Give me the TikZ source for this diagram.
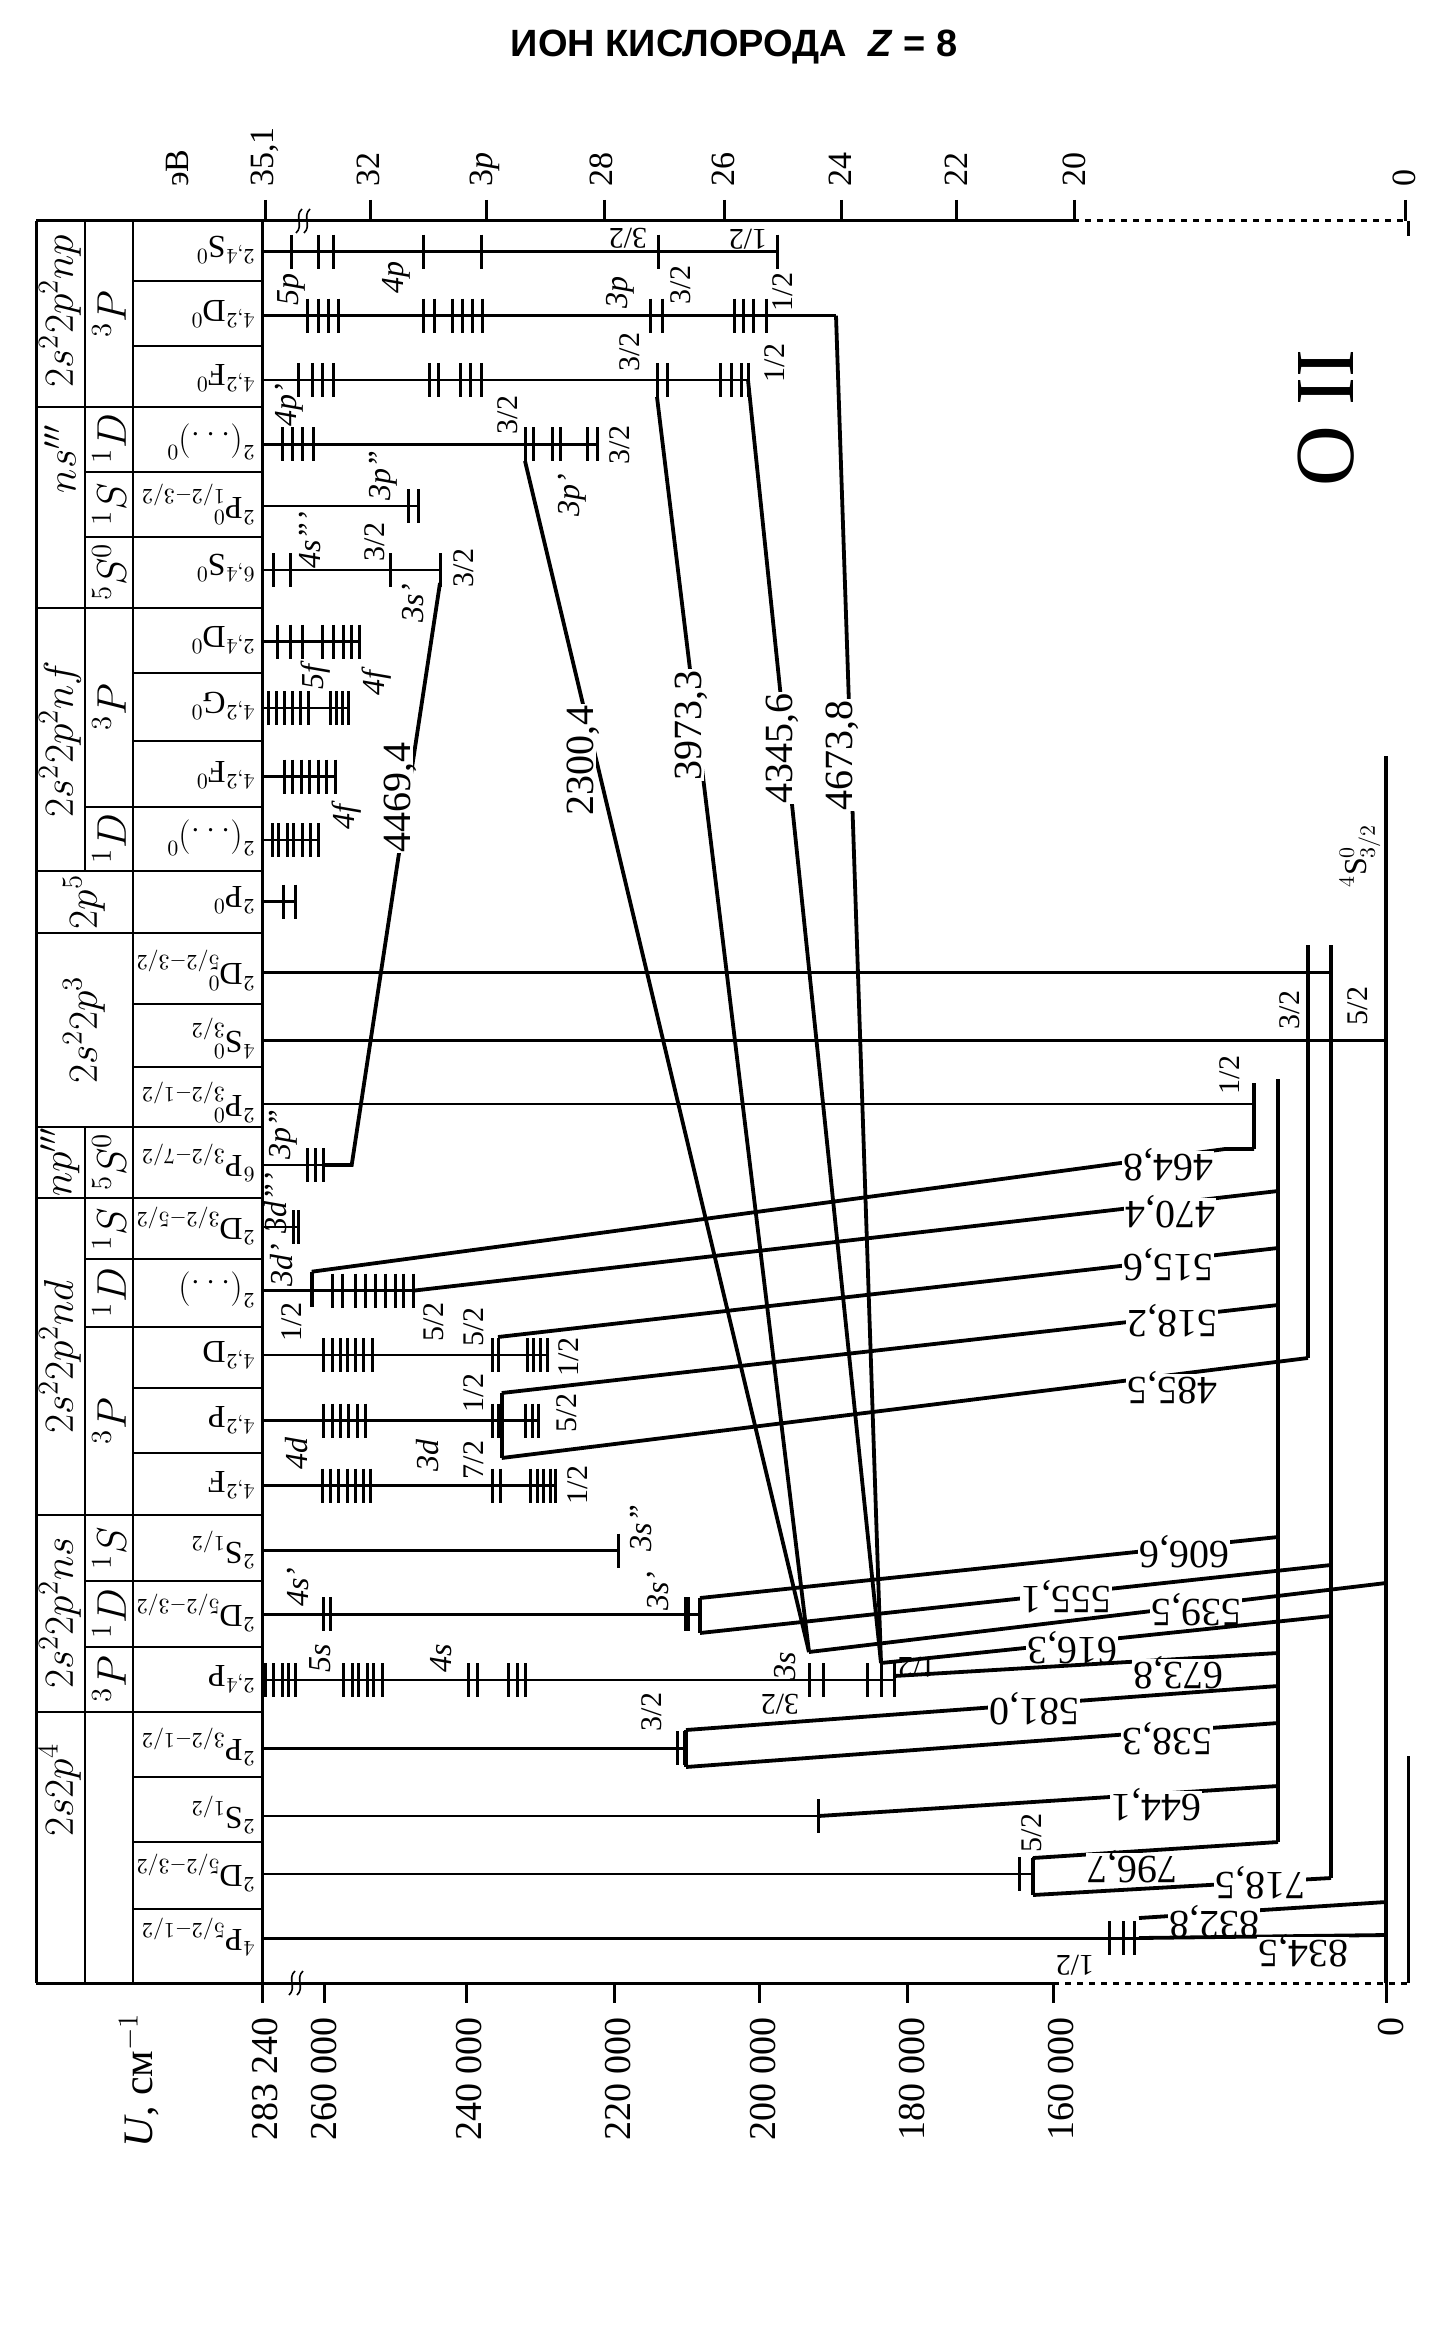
\documentclass[tikz,border=0pt]{standalone}
\usepackage{fontspec}
\setmainfont{Liberation Serif}
\newfontfamily\titlefont{Liberation Sans}
\newcommand\Tks[2]{\foreach \xx in {#2}{\draw[tmk] (\xx,#1-17) -- (\xx,#1+17);}}
\newcommand\Lv[3]{\draw[lvl] (#2,#1) -- (#3,#1);}
\begin{document}
\begin{tikzpicture}[x=0.5pt,y=-0.5pt,
  lvl/.style={line width=1.3pt},
  tmk/.style={line width=1.5pt},
  trn/.style={line width=1.9pt},
  frm/.style={line width=1.5pt},
  grd/.style={line width=1.1pt},
  wl/.style={font=\fontsize{20}{20}\selectfont, fill=white, inner sep=0.6pt, text height=0.68em, text depth=0.08em},
  wlv/.style={wl, rotate=90},
  wlh/.style={wl, rotate=180},
  jv/.style={font=\fontsize{15}{15}\selectfont, inner sep=0pt, rotate=90},
  jh/.style={font=\fontsize{15}{15}\selectfont, inner sep=0pt, rotate=180},
  orb/.style={font=\fontsize{16}{16}\selectfont\itshape, inner sep=0pt, rotate=90},
  term/.style={font=\fontsize{16}{16}\selectfont, rotate=180, anchor=west, inner sep=0pt},
  par/.style={font=\fontsize{20}{20}\selectfont, rotate=90},
  conf/.style={font=\fontsize{22}{22}\selectfont, rotate=90},
  axt/.style={font=\fontsize{17}{17}\selectfont, rotate=90, anchor=west},
  axb/.style={font=\fontsize{19}{19}\selectfont, rotate=90, anchor=east}
]
\useasboundingbox (0,0) rectangle (1452,2343);

% title
\node[font=\titlefont\bfseries\fontsize{19}{19}\selectfont] (title) at (734,47) {ИОН КИСЛОРОДА\ \ \textit{Z} = 8};

% ---------- frame ----------
\draw[frm] (36,221) -- (1073,221);
\draw[frm,dashed] (1073,221) -- (1408,221);
\draw[frm] (36,1983) -- (1053,1983);
\draw[frm,dashed] (1053,1983) -- (1408,1983);
\draw[frm] (36,221) -- (36,1983);
\draw[grd] (85,221) -- (85,870.7);
\draw[grd] (85,1126.7) -- (85,1983);
\draw[grd] (133,221) -- (133,1983);
\draw[frm] (262,221) -- (262,1983);
\draw[frm] (1408,221) -- (1408,236);
\draw[frm] (1408,1756) -- (1408,1983);

% axis ticks
\foreach \x in {265,370,486,604,724,841,956,1074,1405} \draw[frm] (\x,200) -- (\x,221);
\foreach \x in {262,324,466,614,759,907,1053,1386} \draw[frm] (\x,1983) -- (\x,2003);
% breaks
\foreach \x in {299,307} \draw[line width=0.8pt] (\x+3,209) .. controls (\x-5,216) and (\x+5,226) .. (\x-3,233);
\foreach \x in {292,300} \draw[line width=0.8pt] (\x+3,1971) .. controls (\x-5,1978) and (\x+5,1988) .. (\x-3,1995);

% axis labels
\node[axt] (ev) at (178,194) {эВ};
\node[axt] (e351) at (265,194) {35,1};
\node[axt] (e32) at (368,194) {32};
\node[axt] (e30) at (485,194) {3\textit{p}};
\node[axt] (e28) at (601,194) {28};
\node[axt] (e26) at (723,194) {26};
\node[axt] (e24) at (840,194) {24};
\node[axt] (e22) at (956,194) {22};
\node[axt] (e20) at (1074,194) {20};
\node[axt] (e0) at (1404,194) {0};
\node[axb, font=\fontsize{21}{21}\selectfont] (uu) at (139,2006) {\textit{U}, см$^{-1}$};
\node[axb] (c283) at (265,2010) {283 240};
\node[axb] (c260) at (324,2010) {260 000};
\node[axb] (c240) at (469,2010) {240 000};
\node[axb] (c220) at (618,2010) {220 000};
\node[axb] (c200) at (763,2010) {200 000};
\node[axb] (c180) at (912,2010) {180 000};
\node[axb] (c160) at (1061,2010) {160 000};
\node[axb] (c0) at (1391,2010) {0};

% ---------- table dividers ----------
\foreach \y in {406.7,608,870.7,933.3,1126.7,1198.3,1515,1711.7} \draw[grd] (36,\y) -- (262,\y);
\foreach \y in {471.7,536.7,806.7,1259.3,1326.7,1581,1646.7} \draw[grd] (85,\y) -- (262,\y);
\foreach \y in {281,345.7,673,740.7,1004.3,1066.7,1388.3,1453.3,1777.3,1841.7,1909.3} \draw[grd] (133,\y) -- (262,\y);

% configurations
\node[conf] (k1) at (60,311) {$2s^22p^2np$};
\node[conf] (k2) at (60,459) {$ns'''$};
\node[conf] (k3) at (60,739) {$2s^22p^2nf$};
\node[conf] (k4) at (84,902) {$2p^5$};
\node[conf] (k5) at (84,1030) {$2s^22p^3$};
\node[conf] (k6) at (60,1162) {$np'''$};
\node[conf] (k7) at (60,1357) {$2s^22p^2nd$};
\node[conf] (k8) at (60,1613) {$2s^22p^2ns$};
\node[conf] (k9) at (60,1790) {$2s2p^4$};
% parents
\node[par] (p1) at (109,314) {$^3P$};
\node[par] (p2) at (109,439) {$^1D$};
\node[par] (p3) at (109,504) {$^1S$};
\node[par] (p4) at (109,572) {$^5S^0$};
\node[par] (p5) at (109,707) {$^3P$};
\node[par] (p6) at (109,839) {$^1D$};
\node[par] (p7) at (109,1162) {$^5S^0$};
\node[par] (p8) at (109,1229) {$^1S$};
\node[par] (p9) at (109,1293) {$^1D$};
\node[par] (p10) at (109,1421) {$^3P$};
\node[par] (p11) at (109,1548) {$^1S$};
\node[par] (p12) at (109,1614) {$^1D$};
\node[par] (p13) at (109,1679) {$^3P$};
% terms
\node[term] (t1) at (255,250) {$^{2,4}\mathrm{S}^0$};
\node[term] (t2) at (255,314) {$^{4,2}\mathrm{D}^0$};
\node[term] (t3) at (255,378) {$^{4,2}\mathrm{F}^0$};
\node[term] (t4) at (255,442) {$^2(\ldots)^0$};
\node[term] (t5) at (255,504) {$^2\mathrm{P}^0_{1/2-3/2}$};
\node[term] (t6) at (255,568) {$^{6,4}\mathrm{S}^0$};
\node[term] (t7) at (255,640) {$^{2,4}\mathrm{D}^0$};
\node[term] (t8) at (255,706) {$^{4,2}\mathrm{G}^0$};
\node[term] (t9) at (255,775) {$^{4,2}\mathrm{F}^0$};
\node[term] (t10) at (255,838) {$^2(\ldots)^0$};
\node[term] (t11) at (255,900) {$^2\mathrm{P}^0$};
\node[term] (t12) at (255,970) {$^2\mathrm{D}^0_{5/2-3/2}$};
\node[term] (t13) at (255,1038) {$^4\mathrm{S}^0_{3/2}$};
\node[term] (t14) at (255,1102) {$^2\mathrm{P}^0_{3/2-1/2}$};
\node[term] (t15) at (255,1163) {$^6\mathrm{P}_{3/2-7/2}$};
\node[term] (t16) at (255,1226) {$^2\mathrm{D}_{3/2-5/2}$};
\node[term] (t17) at (255,1290) {$^2(\ldots)$};
\node[term] (t18) at (255,1355) {$^{4,2}\mathrm{D}$};
\node[term] (t19) at (255,1420) {$^{4,2}\mathrm{P}$};
\node[term] (t20) at (255,1485) {$^{4,2}\mathrm{F}$};
\node[term] (t21) at (255,1550) {$^2\mathrm{S}_{1/2}$};
\node[term] (t22) at (255,1613) {$^2\mathrm{D}_{5/2-3/2}$};
\node[term] (t23) at (255,1679) {$^{2,4}\mathrm{P}$};
\node[term] (t24) at (255,1747) {$^2\mathrm{P}_{3/2-1/2}$};
\node[term] (t25) at (255,1815) {$^2\mathrm{S}_{1/2}$};
\node[term] (t26) at (255,1873) {$^2\mathrm{D}_{5/2-3/2}$};
\node[term] (t27) at (255,1937) {$^4\mathrm{P}_{5/2-1/2}$};

% ---------- levels ----------
\Lv{251.7}{262}{777} \Tks{251.7}{291,318,333,423,481,658,777}
\Lv{315.7}{262}{836} \Tks{315.7}{307,318,328,338,423,434,452,462,472,482,650,662,734,743,753,766}
\Lv{380}{262}{748} \Tks{380}{298,312,322,333,429,438,460,470,481,657,667,720,731,741,748}
\Lv{444.3}{262}{597} \Tks{444.3}{282,292,302,313,525,533,552,560,587,597}
\Lv{506}{262}{418} \Tks{506}{408,418}
\Lv{570}{262}{440} \Tks{570}{273,290,390,440}
\Lv{641.7}{262}{359} \Tks{641.7}{277,290,302,322,333,343,351,359}
\Lv{708}{262}{348} \Tks{708}{268,276,284,292,300,308,330,336,342,348}
\Lv{776.7}{262}{335} \Tks{776.7}{284,292,301,309,318,326,335}
\Lv{840}{262}{318} \Tks{840}{272,278,287,293,302,310,318}
\Lv{901.7}{262}{295} \Tks{901.7}{283,295}
\Lv{972.7}{262}{1331}
\Lv{1040.7}{262}{1386}
\Lv{1104}{262}{1254}
\Lv{1165}{262}{323} \Tks{1165}{307,315,323}
\Lv{1227}{262}{298} \Tks{1227}{293,298}
\Lv{1290.7}{262}{413} \Tks{1290.7}{332,342,355,365,375,385,395,403,413}
\Lv{1355}{262}{547} \Tks{1355}{323,332,340,347,355,363,372,492,498,527,533,540,547}
\Lv{1420.7}{262}{538} \Tks{1420.7}{323,332,340,348,357,365,492,498,525,532,538}
\Lv{1485.7}{262}{555} \Tks{1485.7}{322,330,338,347,355,363,370,492,500,530,537,543,550,555}
\Lv{1550.7}{262}{618} \Tks{1550.7}{618}
\Lv{1614.3}{262}{700} \Tks{1614.3}{323,330,685,688}
\Lv{1680}{262}{894} \Tks{1680}{265,273,282,288,295,343,352,358,367,373,382,468,477,508,517,525,809,823,867,881,894}
\Lv{1748.3}{262}{686} \Tks{1748.3}{677,684}
\Lv{1816}{262}{818.5} \Tks{1816}{818.5}
\Lv{1874}{262}{1033} \Tks{1874}{1019,1033}
\Lv{1938.3}{262}{1139} \Tks{1938.3}{1109.5,1123,1134}

% ground-term collectors
\coordinate (S0a) at (1386,756);  \coordinate (S0b) at (1386,1983);
\draw[trn] (S0a) -- (S0b);
\draw[trn] (1331,945) -- (1331,1878);
\draw[trn] (1308,945) -- (1308,1358);
\draw[trn] (1278,1079) -- (1278,1842);
\draw[trn] (1254,1083) -- (1254,1149);
\node[jv] (g12) at (1230,1075) {1/2};
\node[jv] (g32) at (1290,1010) {3/2};
\node[jv] (g52) at (1358,1006) {5/2};
\node[font=\fontsize{16}{16}\selectfont, rotate=90] (g4s) at (1360,856) {$^4\mathrm{S}^0_{3/2}$};
\node[font=\fontsize{42}{42}\selectfont, rotate=90] (oii) at (1326,418) {O II};

% ---------- transitions (upper part) ----------
\draw[trn] (836,315.7) -- (881,1663);
\node[wlv] (w46738) at (846,755) {4673,8};
\draw[trn] (748,380) -- (881,1663);
\node[wlv] (w43456) at (786,748) {4345,6};
\draw[trn] (657,397) -- (809,1652);
\node[wlv] (w39733) at (695,725) {3973,3};
\draw[trn] (525,461) -- (809,1652);
\node[wlv] (w23004) at (587,760) {2300,4};
\draw[trn] (440,583) -- (351.7,1165) -- (323,1165);
\node[wlv] (w44694) at (404,797) {4469,4};

% ---------- transitions to ground terms ----------
\draw[trn] (311.7,1271.7) -- (311.7,1306.7);
\draw[trn] (311.7,1271.7) -- (1225,1149) -- (1254,1149);
\node[wlh] (w4648) at (1168,1160) {464,8};
\draw[trn] (413,1290.7) -- (1278,1191);
\node[wlh] (w4704) at (1170,1207) {470,4};
\draw[trn] (498,1337) -- (1278,1248);
\node[wlh] (w5156) at (1168,1260) {515,6};
\draw[trn] (501.7,1393) -- (501.7,1458);
\draw[trn] (501.7,1393) -- (1278,1305);
\node[wlh] (w5182) at (1172,1316) {518,2};
\draw[trn] (501.7,1458) -- (1308,1358);
\node[wlh] (w4855) at (1172,1383) {485,5};
\draw[trn] (700,1598) -- (700,1633);
\draw[trn] (700,1598) -- (1278,1537);
\node[wlh] (w6066) at (1184,1547) {606,6};
\draw[trn] (700,1633) -- (1331,1565);
\node[wlh] (w5551) at (1066,1592) {555,1};
\draw[trn] (809,1652) -- (1386,1583);
\node[wlh] (w5395) at (1196,1605) {539,5};
\draw[trn] (881,1663) -- (1331,1616);
\node[wlh] (w6163) at (1072,1643) {616,3};
\draw[trn] (894,1676) -- (1278,1653);
\node[wlh] (w6738) at (1178,1668) {673,8};
\draw[trn] (686,1730) -- (686,1767);
\draw[trn] (686,1730) -- (1278,1686);
\node[wlh] (w5810) at (1034,1704) {581,0};
\draw[trn] (686,1767) -- (1278,1723);
\node[wlh] (w5383) at (1167,1734) {538,3};
\draw[trn] (818.5,1816) -- (1278,1786);
\node[wlh] (w6441) at (1156,1800) {644,1};
\draw[trn] (1033,1858) -- (1033,1895);
\draw[trn] (1033,1858) -- (1278,1842);
\node[wlh] (w7967) at (1132,1862) {796,7};
\draw[trn] (1033,1895) -- (1331,1878);
\node[wlh] (w7185) at (1260,1878) {718,5};
\draw[trn] (1139,1918) -- (1386,1902);
\node[wlh] (w8328) at (1214,1917) {832,8};
\draw[trn] (1139,1938) -- (1386,1935);
\node[wlh] (w8345) at (1303,1946) {834,5};

% ---------- small labels ----------
\node[orb] (a1) at (291,290) {5p};
\node[orb] (a2) at (396,278) {4p};
\node[jh] (a3) at (628,238) {3/2};
\node[jh] (a4) at (748,239) {1/2};
\node[orb] (a5) at (620,293) {3p};
\node[jv] (a6) at (681,285) {3/2};
\node[jv] (a7) at (783,292) {1/2};
\node[orb] (a8) at (289,405) {4p'};
\node[jv] (a9) at (630,352) {3/2};
\node[jv] (a10) at (775,363) {1/2};
\node[jv] (a11) at (508,415) {3/2};
\node[jv] (a12) at (620,445) {3/2};
\node[orb] (a13) at (572,495) {3p'};
\node[orb] (a14) at (383,476) {3p''};
\node[orb] (a15) at (310,540) {4s'''};
\node[jv] (a16) at (375,542) {3/2};
\node[orb] (a17) at (413,603) {3s'};
\node[jv] (a18) at (464,568) {3/2};
\node[orb] (a19) at (316,677) {5f};
\node[orb] (a20) at (377,683) {4f};
\node[orb] (a21) at (347,817) {4f};
\node[orb] (a22) at (283,1135) {3p''};
\node[orb] (a23) at (276,1203) {3d'''};
\node[orb] (a24) at (282,1265) {3d'};
\node[jv] (a25) at (292,1322) {1/2};
\node[jv] (a26) at (434,1322) {5/2};
\node[jv] (a27) at (474,1327) {5/2};
\node[jv] (a28) at (569,1357) {1/2};
\node[jv] (a29) at (474,1393) {1/2};
\node[jv] (a30) at (567,1413) {5/2};
\node[orb] (a31) at (297,1453) {4d};
\node[orb] (a32) at (428,1455) {3d};
\node[jv] (a33) at (474,1460) {7/2};
\node[jv] (a34) at (578,1485) {1/2};
\node[orb] (a35) at (641,1528) {3s''};
\node[orb] (a36) at (658,1591) {3s'};
\node[orb] (a37) at (298,1587) {4s'};
\node[orb] (a38) at (320,1658) {5s};
\node[orb] (a39) at (441,1658) {4s};
\node[orb] (a40) at (785,1666) {3s};
\node[jh] (a41) at (780,1704) {3/2};
\node[jh] (a42) at (917,1667) {1/2};
\node[jv] (a43) at (652,1712) {3/2};
\node[jv] (a44) at (1032,1833) {5/2};
\node[jh] (a45) at (1075,1965) {1/2};
\end{tikzpicture}
\end{document}
